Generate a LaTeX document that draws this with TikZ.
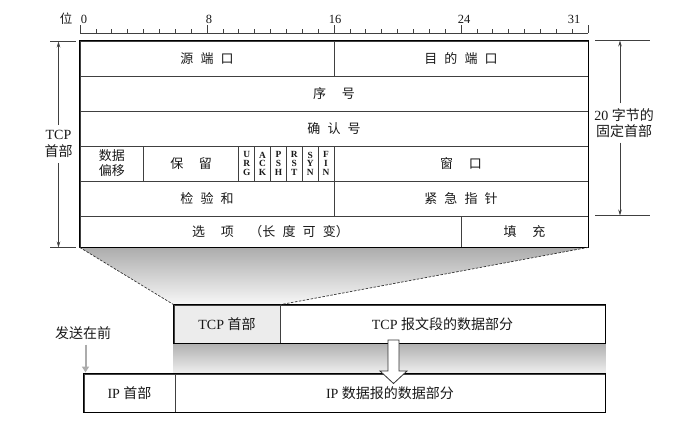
\documentclass[tikz,border=0pt]{standalone}
\usepackage{fontspec}
\setmainfont{Liberation Serif}
\newfontfamily\cjk{Noto Sans CJK SC}
\usetikzlibrary{arrows.meta,backgrounds}
\newcommand\cgap{\hspace{0.55em}}
\newcommand\wgap{\hspace{1.2em}}
\newcommand\tcpfield[7][]{\node[fld,#1,minimum width={#5-#3},minimum height={#6-#4}] (#2) at ({(#3+#5)/2},{(#4+#6)/2}) {#7};}
\begin{document}
\begin{tikzpicture}[x=1pt,y=-1pt,
  fld/.style={draw=black!75, line width=0.7pt, inner sep=0pt, align=center, font=\cjk\fontsize{13}{15}\selectfont, text=black!90},
  flagbox/.style={font=\rmfamily\bfseries\fontsize{9.4}{8.6}\selectfont},
  bx/.style={font=\rmfamily\fontsize{14}{16}\selectfont},
  outer/.style={draw=black, line width=1.5pt},
  lbl/.style={inner sep=0pt, align=center, text=black!90, font=\rmfamily\fontsize{14}{17}\selectfont},
  num/.style={inner sep=0pt, text=black!90, font=\rmfamily\fontsize{12.5}{14}\selectfont},
  dim/.style={draw=black!75, line width=0.6pt},
  dimarrow/.style={dim, -{Stealth[length=6pt,width=3.5pt]}},
  tick/.style={draw=black!75, line width=0.6pt},
  funnel/.style={draw=black!80, dash pattern=on 2.5pt off 1.5pt, line width=0.7pt},
]
\useasboundingbox (0,0) rectangle (694,428);

% ruler
\draw[tick] (80,33) -- (588,33);
\foreach \i in {0,...,32}{\draw[tick] ({80+\i*15.875},33) -- ++(0,-3.5);}
\foreach \i in {0,8,16,24,32}{\draw[tick] ({80+\i*15.875},33) -- ++(0,-8);}
\node[num] (wei) at (66,19) {\cjk 位};
\node[num] (b0) at (84,19) {0};
\node[num] (b8) at (209,19) {8};
\node[num] (b16) at (335,19) {16};
\node[num] (b24) at (464,19) {24};
\node[num] (b31) at (574,19) {31};

% header fields
\tcpfield{src}{80}{41}{334}{76}{源\cgap 端\cgap 口}
\tcpfield{dst}{334}{41}{588}{76}{目\cgap 的\cgap 端\cgap 口}
\tcpfield{seq}{80}{76}{588}{111}{序\wgap 号}
\tcpfield{ack}{80}{111}{588}{146}{确\cgap 认\cgap 号}
\tcpfield{off}{80}{146}{143.5}{181}{数据\\偏移}
\tcpfield{rsv}{143.5}{146}{238.75}{181}{保\wgap 留}
\tcpfield[flagbox]{fURG}{238.75}{146}{254.625}{181}{U\\R\\G}
\tcpfield[flagbox]{fACK}{254.625}{146}{270.5}{181}{A\\C\\K}
\tcpfield[flagbox]{fPSH}{270.5}{146}{286.375}{181}{P\\S\\H}
\tcpfield[flagbox]{fRST}{286.375}{146}{302.25}{181}{R\\S\\T}
\tcpfield[flagbox]{fSYN}{302.25}{146}{318.125}{181}{S\\Y\\N}
\tcpfield[flagbox]{fFIN}{318.125}{146}{334}{181}{F\\I\\N}
\tcpfield{win}{334}{146}{588}{181}{窗\wgap 口}
\tcpfield{chk}{80}{181}{334}{216}{检\cgap 验\cgap 和}
\tcpfield{urp}{334}{181}{588}{216}{紧\cgap 急\cgap 指\cgap 针}
\tcpfield{opt}{80}{216}{461}{247}{选\wgap 项\wgap （长\cgap 度\cgap 可\cgap 变）}
\tcpfield{pad}{461}{216}{588}{247}{填\wgap 充}
\draw[outer] (src.north west) rectangle (pad.south east);

% left dimension
\coordinate (lt1) at (50,41.5);
\coordinate (lt2) at (76,41.5);
\coordinate (lb1) at (50,247.5);
\coordinate (lb2) at (76,247.5);
\draw[dim] (lt1) -- (lt2);
\draw[dim] (lb1) -- (lb2);
\node[lbl] (tcphd) at (58.5,144) {TCP\\{\cjk 首部}};
\draw[dimarrow] ([yshift=5pt]tcphd.north) -- (tcphd.north |- lt1);
\draw[dimarrow] ([yshift=-5pt]tcphd.south) -- (tcphd.south |- lb1);

% right dimension
\coordinate (rt1) at (595,40.5);
\coordinate (rt2) at (650,40.5);
\coordinate (rb1) at (595,215.5);
\coordinate (rb2) at (650,215.5);
\coordinate (rax) at (620,0);
\draw[dim] (rt1) -- (rt2);
\draw[dim] (rb1) -- (rb2);
\node[lbl, font=\rmfamily\fontsize{14}{16}\selectfont] (fixed) at (624,123) {20 {\cjk 字节的}\\{\cjk 固定首部}};
\draw[dimarrow] ([yshift=5pt]fixed.north -| rax) -- (rax |- rt1);
\draw[dimarrow] ([yshift=-5pt]fixed.south -| rax) -- (rax |- rb1);

% TCP segment and IP datagram
\tcpfield[bx, fill=gray!15]{tcph}{174}{305}{280}{343}{TCP {\cjk 首部}}
\tcpfield[bx]{tcpd}{280}{305}{605}{343}{TCP {\cjk 报文段的数据部分}}
\tcpfield[bx]{iph}{84}{374}{175}{412}{IP {\cjk 首部}}
\tcpfield[bx]{ipd}{175}{374}{605}{412}{IP {\cjk 数据报的数据部分}}
\draw[outer] (tcph.north west) rectangle (tcpd.south east);
\draw[outer] (iph.north west) rectangle (ipd.south east);

\begin{pgfonlayer}{background}
\shade[top color=gray!65, bottom color=gray!6] (opt.south west) -- (pad.south east) -- (tcph.north east) -- (tcph.north west) -- cycle;
\shade[top color=gray!62, bottom color=gray!12] (tcph.south west) rectangle (tcpd.south east |- ipd.north);
\end{pgfonlayer}

\draw[funnel] (opt.south west) -- (tcph.north west);
\draw[funnel] (pad.south east) -- (tcph.north east);

% hollow arrow
\draw[line width=0.8pt, draw=black!80, fill=white] (388,340) -- (399,340) -- (399,371) -- (407,371) -- (393.5,383.5) -- (380,371) -- (388,371) -- cycle;

% send first
\node[lbl] (send) at (83,333) {\cjk 发送在前};
\coordinate (sendend) at (85.5,372.5);
\draw[draw=gray!65, line width=2pt, -{Triangle[length=6pt,width=7pt]}] (send.south -| sendend) ++(0,5) -- (sendend);
\end{tikzpicture}
\end{document}
